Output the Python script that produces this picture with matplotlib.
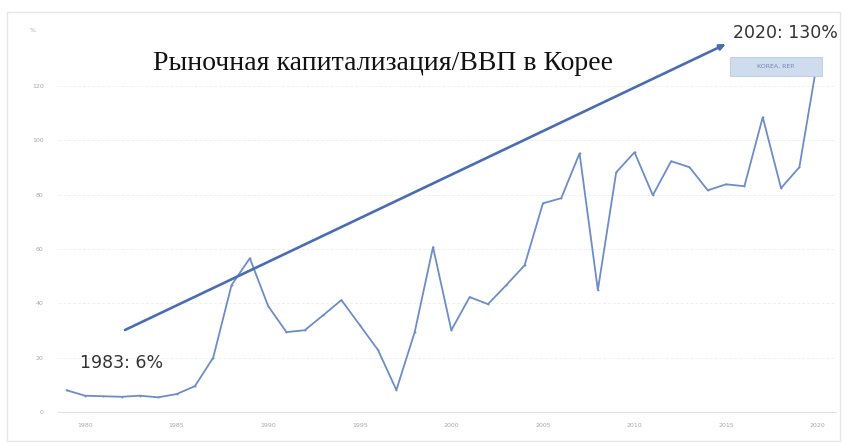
import matplotlib
matplotlib.use("Agg")
import matplotlib.pyplot as plt
from matplotlib.patches import Rectangle

# Market capitalisation of listed companies, % of GDP (Korea, Rep.)
years = list(range(1979, 2021))
market_cap_pct = [
    8.0, 6.0, 5.8, 5.6, 6.0, 5.4, 6.6, 9.5, 20.0, 46.7,
    56.6, 39.0, 29.4, 30.1, 35.6, 41.2, 32.0, 22.8, 8.1, 29.4,
    60.7, 30.1, 42.3, 39.7, 46.7, 54.0, 76.8, 78.7, 95.2, 44.9,
    88.2, 95.6, 79.8, 92.3, 90.1, 81.6, 83.8, 83.1, 108.5, 82.4,
    90.1, 130.0,
]
x_ticks = [1980, 1985, 1990, 1995, 2000, 2005, 2010, 2015, 2020]
y_ticks = [0, 20, 40, 60, 80, 100, 120]

title = "Рыночная капитализация/ВВП в Корее"
series_name = "KOREA, REP."
first_note = "1983: 6%"
last_note = "2020: 130%"

W, H = 846, 443
fig = plt.figure(figsize=(W / 100, H / 100), dpi=100)
fig.patch.set_facecolor("white")

# light card frame around the chart
fig.patches.append(Rectangle((7 / W, 2 / H), 833 / W, 429 / H,
                             transform=fig.transFigure, facecolor="none",
                             edgecolor="#e6e6e6", linewidth=1.0, zorder=0))

ax = fig.add_axes([57.5 / W, (H - 412) / H, (836 - 57.5) / W, 140 * 2.717 / H])
ax.set_facecolor("none")
ax.set_xlim(1978.5, 2021.0)
ax.set_ylim(0, 140)

for s in ["top", "right", "left"]:
    ax.spines[s].set_visible(False)
ax.spines["bottom"].set_color("#e2e2e2")
ax.spines["bottom"].set_linewidth(0.8)

ax.set_yticks(y_ticks)
ax.set_yticklabels([str(v) for v in y_ticks])
ax.set_xticks(x_ticks)
ax.set_xticklabels([str(v) for v in x_ticks])
ax.tick_params(axis="both", length=0, labelsize=4.5, colors="#a8a8a8")
ax.tick_params(axis="y", pad=10)
ax.tick_params(axis="x", pad=8)

for v in y_ticks[1:]:
    ax.axhline(v, color="#efefef", linewidth=0.7, linestyle=(0, (3, 2)), zorder=1)

ax.plot(years, market_cap_pct, color="#6d8dc8", linewidth=1.3, zorder=3,
        marker="o", markersize=1.4, markerfacecolor="#6d8dc8", markeredgewidth=0,
        clip_on=False)

# unit label
fig.text(33 / W, 1 - 30 / H, "%", fontsize=4.5, color="#a8a8a8",
         ha="center", va="center")

# title
fig.text(383 / W, 1 - 63 / H, title, fontsize=20, family="Liberation Serif",
         color="#111111", ha="center", va="center")

# trend arrow
ax.annotate("", xy=(726, H - 44), xytext=(125, H - 330),
            xycoords="figure pixels", textcoords="figure pixels",
            annotation_clip=False,
            arrowprops=dict(arrowstyle="-|>,head_length=0.35,head_width=0.16",
                            color="#4a6cb3", linewidth=1.9,
                            shrinkA=0, shrinkB=0),
            zorder=5)

# notes
fig.text(80 / W, 1 - 363 / H, first_note, fontsize=12.5, color="#333333",
         ha="left", va="center")
fig.text(838 / W, 1 - 33 / H, last_note, fontsize=12.5, color="#333333",
         ha="right", va="center")

# legend label box
fig.patches.append(Rectangle((730 / W, 1 - 76 / H), 92 / W, 19 / H,
                             transform=fig.transFigure, facecolor="#cfdcee",
                             edgecolor="#b9cbe4", linewidth=0.6, zorder=6))
fig.text(776 / W, 1 - 66.5 / H, series_name, fontsize=4.5, color="#6d87b3",
         ha="center", va="center", zorder=7)

fig.savefig("out.png", dpi=100)
